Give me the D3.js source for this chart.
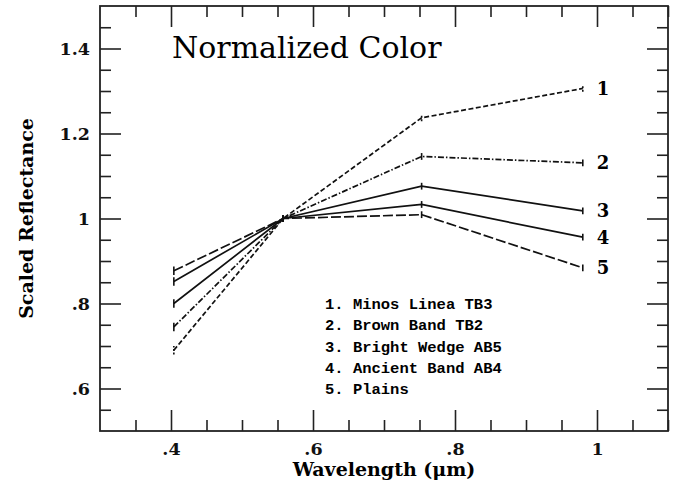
<!DOCTYPE html>
<html>
<head>
<meta charset="utf-8">
<script src="https://cdn.jsdelivr.net/npm/d3@7/dist/d3.min.js"></script>
<style>
  body { margin: 0; background: #fff; }
  svg { display: block; }
  .tick line { stroke: #222; stroke-width: 1.6; }
  .tick text { font-family: "DejaVu Serif", serif; font-weight: bold; font-size: 17.5px; fill: #111; }
</style>
</head>
<body>
<div id="chart"></div>
<script>
// chart size
var width = 673;
var height = 488;

// data
const wavelengths = [0.404, 0.558, 0.753, 0.98];
const seriesNames = ["Minos Linea TB3", "Brown Band TB2", "Bright Wedge AB5", "Ancient Band AB4", "Plains"];
const minosLinea  = [0.690, 1.000, 1.237, 1.306];
const brownBand   = [0.745, 1.000, 1.146, 1.131];
const brightWedge = [0.800, 1.000, 1.076, 1.018];
const ancientBand = [0.852, 1.000, 1.033, 0.956];
const plains      = [0.877, 1.000, 1.009, 0.884];
const errMinos    = [0.010, 0.008, 0.008, 0.008];
const errBrown    = [0.010, 0.008, 0.008, 0.008];
const errBright   = [0.010, 0.008, 0.008, 0.008];
const errAncient  = [0.010, 0.008, 0.008, 0.008];
const errPlains   = [0.010, 0.008, 0.008, 0.008];
const xMajor = [0.4, 0.6, 0.8, 1.0];
const yMajor = [0.6, 0.8, 1.0, 1.2, 1.4];

const series = [minosLinea, brownBand, brightWedge, ancientBand, plains];
const errors = [errMinos, errBrown, errBright, errAncient, errPlains];
const dashes = ["5,2.5", "6,2,1.5,2", null, null, "10,3"];

const margin = {left: 100, top: 6, right: 5, bottom: 57};

const x = d3.scaleLinear()
	.domain([0.3, 1.1])
	.range([margin.left, width - margin.right]);

const y = d3.scaleLinear()
	.domain([0.5, 1.5])
	.range([height - margin.bottom, margin.top]);

const svg = d3.select("#chart")
	.append("svg")
	.attr("width", width)
	.attr("height", height);

// minor ticks every 0.05 that are not majors
const round2 = (v) => Math.round(v * 100) / 100;
const xMinor = d3.range(0.35, 1.1, 0.05).map(round2).filter((v) => !xMajor.some((m) => Math.abs(m - v) < 1e-6));
const yMinor = d3.range(0.55, 1.5, 0.05).map(round2).filter((v) => !yMajor.some((m) => Math.abs(m - v) < 1e-6));

const fmt = (d) => d3.format("~g")(d).replace(/^0\./, ".");

function addAxis(axisFn, scale, pos, values, size, labels, pad) {
	const ax = axisFn(scale)
		.tickValues(values)
		.tickSize(-size)
		.tickPadding(pad || 0)
		.tickFormat(labels ? fmt : "");
	const g = svg.append("g")
		.attr("transform", pos)
		.call(ax);
	g.select(".domain").remove();
	return g;
}

const x0 = margin.left, x1 = width - margin.right;
const y0 = height - margin.bottom, y1 = margin.top;

// bottom
addAxis(d3.axisBottom, x, `translate(0,${y0})`, xMajor, 21, true, 12);
addAxis(d3.axisBottom, x, `translate(0,${y0})`, xMinor, 11, false);
// top
addAxis(d3.axisTop, x, `translate(0,${y1})`, xMajor, 21, false);
addAxis(d3.axisTop, x, `translate(0,${y1})`, xMinor, 11, false);
// left
addAxis(d3.axisLeft, y, `translate(${x0},0)`, yMajor, 21, true, 10);
addAxis(d3.axisLeft, y, `translate(${x0},0)`, yMinor, 11, false);
// right
addAxis(d3.axisRight, y, `translate(${x1},0)`, yMajor, 21, false);
addAxis(d3.axisRight, y, `translate(${x1},0)`, yMinor, 11, false);

// frame
svg.append("rect")
	.attr("x", x0)
	.attr("y", y1)
	.attr("width", x1 - x0)
	.attr("height", y0 - y1)
	.attr("fill", "none")
	.attr("stroke", "#222")
	.attr("stroke-width", 1.8);

// lines
const line = d3.line()
	.x((d, i) => x(wavelengths[i]))
	.y((d) => y(d));

series.forEach(function(vals, k) {
	svg.append("path")
		.datum(vals)
		.attr("d", line)
		.attr("fill", "none")
		.attr("stroke", "#111")
		.attr("stroke-width", 1.7)
		.attr("stroke-dasharray", dashes[k]);

	svg.selectAll(null)
		.data(vals)
		.enter()
		.append("line")
		.attr("x1", (d, i) => x(wavelengths[i]))
		.attr("x2", (d, i) => x(wavelengths[i]))
		.attr("y1", (d, i) => y(d - errors[k][i]))
		.attr("y2", (d, i) => y(d + errors[k][i]))
		.attr("stroke", "#111")
		.attr("stroke-width", 1.6)
		.attr("stroke-dasharray", k == 0 ? "2,1.5" : null);

	// number at right end
	svg.append("text")
		.attr("x", x(wavelengths[wavelengths.length - 1]) + 14)
		.attr("y", y(vals[vals.length - 1]))
		.attr("dy", "0.36em")
		.style("font-family", "DejaVu Serif, serif")
		.style("font-weight", "bold")
		.style("font-size", "18px")
		.text(k + 1);
});

// legend
svg.selectAll(".legend")
	.data(seriesNames)
	.enter()
	.append("text")
	.attr("class", "legend")
	.attr("x", 325)
	.attr("y", (d, i) => 309 + i * 21.3)
	.style("font-family", "Liberation Mono, monospace")
	.style("font-weight", "bold")
	.style("font-size", "15.5px")
	.style("white-space", "pre")
	.text((d, i) => (i + 1) + ". " + d);

// title
svg.append("text")
	.attr("x", 172)
	.attr("y", 58)
	.style("font-family", "DejaVu Serif, serif")
	.style("font-size", "30px")
	.text("Normalized Color");

// axis titles
svg.append("text")
	.attr("x", (x0 + x1) / 2)
	.attr("y", 476)
	.attr("text-anchor", "middle")
	.style("font-family", "DejaVu Serif, serif")
	.style("font-weight", "bold")
	.style("font-size", "19px")
	.text("Wavelength (\u03bcm)");

svg.append("text")
	.attr("transform", `translate(33,${(y0 + y1) / 2}) rotate(-90)`)
	.attr("text-anchor", "middle")
	.style("font-family", "DejaVu Serif, serif")
	.style("font-weight", "bold")
	.style("font-size", "19px")
	.text("Scaled Reflectance");
</script>
</body>
</html>
